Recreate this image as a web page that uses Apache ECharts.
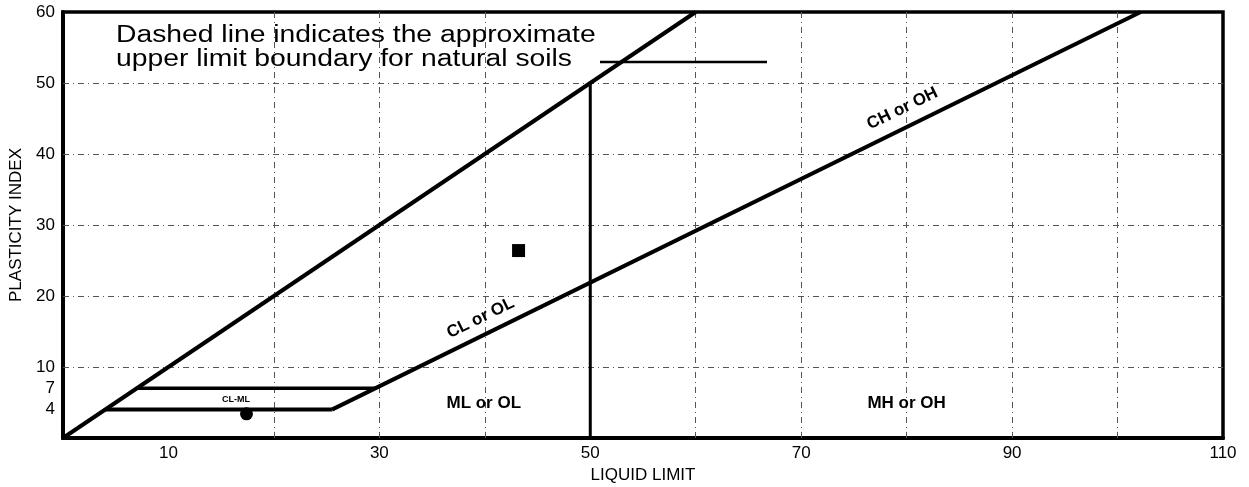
<!DOCTYPE html>
<html>
<head>
<meta charset="utf-8">
<script src="https://cdn.jsdelivr.net/npm/echarts@6/dist/echarts.min.js"></script>
<style>
html,body{margin:0;padding:0;background:#fff;}
#c{width:1249px;height:487px;}
</style>
</head>
<body>
<div id="c"></div>
<script>
// ---- data ----
const liquidLimitTicks = [10, 30, 50, 70, 90, 110];
const plasticityTicks = [4, 7, 10, 20, 30, 40, 50, 60];
const gridLL = [20, 30, 40, 60, 70, 80, 90, 100];
const gridPI = [10, 20, 30, 40, 50];
const upperLimitLine = [[0, 0], [60, 60]];
const aLine = [[25.5, 4], [102.2, 60]];
const clmlUpper = [[7, 7], [29.6, 7]];
const clmlLower = [[4, 4], [25.5, 4]];
const llDivider = [[50, 0], [50, 50]];
const sampleSquare = [[43.2, 26.4]];
const sampleCircle = [[17.4, 3.4]];
const zoneNames = ['ML or OL', 'MH or OH', 'CL-ML', 'CL or OL', 'CH or OH'];
const zonePositions = [[39.9, 4.9], [80, 4.9], [16.4, 5.4], [39.6, 16.9], [79.6, 46.4]];
const zoneAngles = [0, 0, 0, 26, 26];
const noteLines = ['Dashed line indicates the approximate', 'upper limit boundary for natural soils'];

const FONT = 'Liberation Sans, Arial, sans-serif';
const chart = echarts.init(document.getElementById('c'), null, {renderer: 'canvas'});

function thick(data, w) {
  return {
    type: 'line', data: data, symbol: 'none', silent: true, z: 5,
    lineStyle: {color: '#000', width: w, cap: 'butt', opacity: 1}, animation: false
  };
}

const zoneData = zoneNames.map((n, i) => ({
  name: n, value: zonePositions[i],
  label: {
    rotate: zoneAngles[i],
    fontSize: n === 'CL-ML' ? 9 : 17
  }
}));

chart.setOption({
  animation: false,
  backgroundColor: '#fff',
  grid: {left: 63, right: 26, top: 12, bottom: 49, outerBoundsMode: 'none', containLabel: false,
         show: true, borderColor: '#000', borderWidth: 3.5, backgroundColor: 'transparent'},
  xAxis: {
    type: 'value', min: 0, max: 110,
    name: 'LIQUID LIMIT', nameLocation: 'middle', nameGap: 28,
    nameTextStyle: {fontFamily: FONT, fontSize: 17, color: '#000'},
    axisLine: {show: true, onZero: false, lineStyle: {color: '#000', width: 4}},
    axisTick: {show: false},
    splitLine: {show: false},
    axisLabel: {customValues: liquidLimitTicks, fontFamily: FONT, fontSize: 17, color: '#000', margin: 7}
  },
  yAxis: {
    type: 'value', min: 0, max: 60,
    name: 'PLASTICITY INDEX', nameLocation: 'middle', nameGap: 33,
    nameTextStyle: {fontFamily: FONT, fontSize: 17, color: '#000'},
    axisLine: {show: true, onZero: false, lineStyle: {color: '#000', width: 4}},
    axisTick: {show: false},
    splitLine: {show: false},
    axisLabel: {customValues: plasticityTicks, fontFamily: FONT, fontSize: 17, color: '#000', margin: 8}
  },
  series: [
    {
      type: 'line', data: [], silent: true, z: 1,
      markLine: {
        silent: true, symbol: 'none', animation: false,
        label: {show: false},
        lineStyle: {color: '#555', width: 1, type: [6, 4, 1, 4], opacity: 1},
        data: gridLL.map(v => ({xAxis: v})).concat(gridPI.map(v => ({yAxis: v})))
      }
    },
    thick(upperLimitLine, 4),
    thick(aLine, 4),
    thick(clmlUpper, 3.5),
    thick(clmlLower, 4),
    thick(llDivider, 3),
    {
      type: 'scatter', data: sampleSquare, symbol: 'rect', symbolSize: 13, z: 6,
      itemStyle: {color: '#000', opacity: 1}, silent: true
    },
    {
      type: 'scatter', data: sampleCircle, symbol: 'circle', symbolSize: 13, z: 6,
      itemStyle: {color: '#000', opacity: 1}, silent: true
    },
    {
      type: 'scatter', data: zoneData, symbolSize: 0, z: 7, silent: true,
      itemStyle: {opacity: 1},
      label: {show: true, position: 'inside', formatter: '{b}', fontFamily: FONT, fontWeight: 'bold', color: '#000'}
    }
  ],
  graphic: [
    {type: 'text', x: 116, y: 36, scaleX: 1.23, z: 10,
     style: {text: noteLines[0], fontFamily: FONT, fontSize: 23, fill: '#000', verticalAlign: 'middle'}},
    {type: 'text', x: 116, y: 60, scaleX: 1.23, z: 10,
     style: {text: noteLines[1], fontFamily: FONT, fontSize: 23, fill: '#000', verticalAlign: 'middle'}},
    {type: 'line', z: 10, shape: {x1: 600, y1: 62, x2: 767, y2: 62}, style: {stroke: '#000', lineWidth: 2.5}}
  ]
});
</script>
</body>
</html>
